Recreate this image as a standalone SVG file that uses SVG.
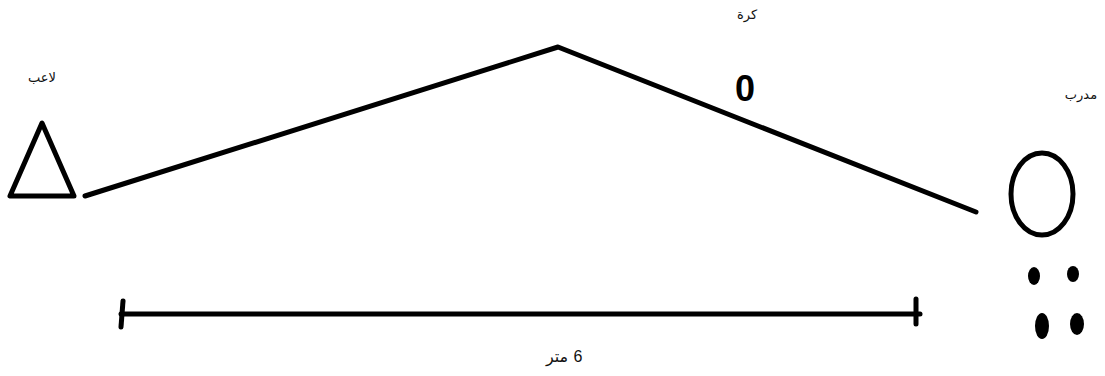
<svg xmlns="http://www.w3.org/2000/svg" width="1105" height="376" viewBox="0 0 1105 376">
<style>
.s{fill:none;stroke:#000;stroke-width:5;stroke-linecap:round;stroke-linejoin:round}
.t{font-family:"Liberation Sans","DejaVu Sans",sans-serif;font-size:13px;fill:#111;text-anchor:middle}
.m{font-size:16px}
</style>
<rect width="1105" height="376" fill="#fff"/>
<g id="player">
<polygon class="s" points="42,123 10,196 74,196"/>
<text class="t" x="42" y="82">لاعب</text>
</g>
<g id="ball">
<text x="745" y="101" font-family="Liberation Sans,sans-serif" font-weight="bold" font-size="36" text-anchor="middle" fill="#000">0</text>
<text class="t" x="747" y="19">كرة</text>
</g>
<g id="coach">
<ellipse class="s" cx="1042" cy="194" rx="31" ry="41"/>
<text class="t" x="1081" y="99">مدرب</text>
<ellipse cx="1034" cy="276" rx="6" ry="9"/>
<ellipse cx="1073" cy="274" rx="6" ry="8"/>
<ellipse cx="1042" cy="326" rx="7" ry="13"/>
<ellipse cx="1077" cy="324" rx="7" ry="11"/>
</g>
<g id="connectors">
<polyline class="s" points="85,196 558,47 976,212"/>
<line class="s" x1="121" y1="314" x2="920" y2="314"/>
<line class="s" x1="123" y1="301" x2="121" y2="327"/>
<line class="s" x1="916" y1="299" x2="916" y2="324"/>
</g>
<g id="distance">
<text class="t m" x="557" y="362">متر</text>
<text class="t m" x="578" y="362">6</text>
</g>
</svg>
